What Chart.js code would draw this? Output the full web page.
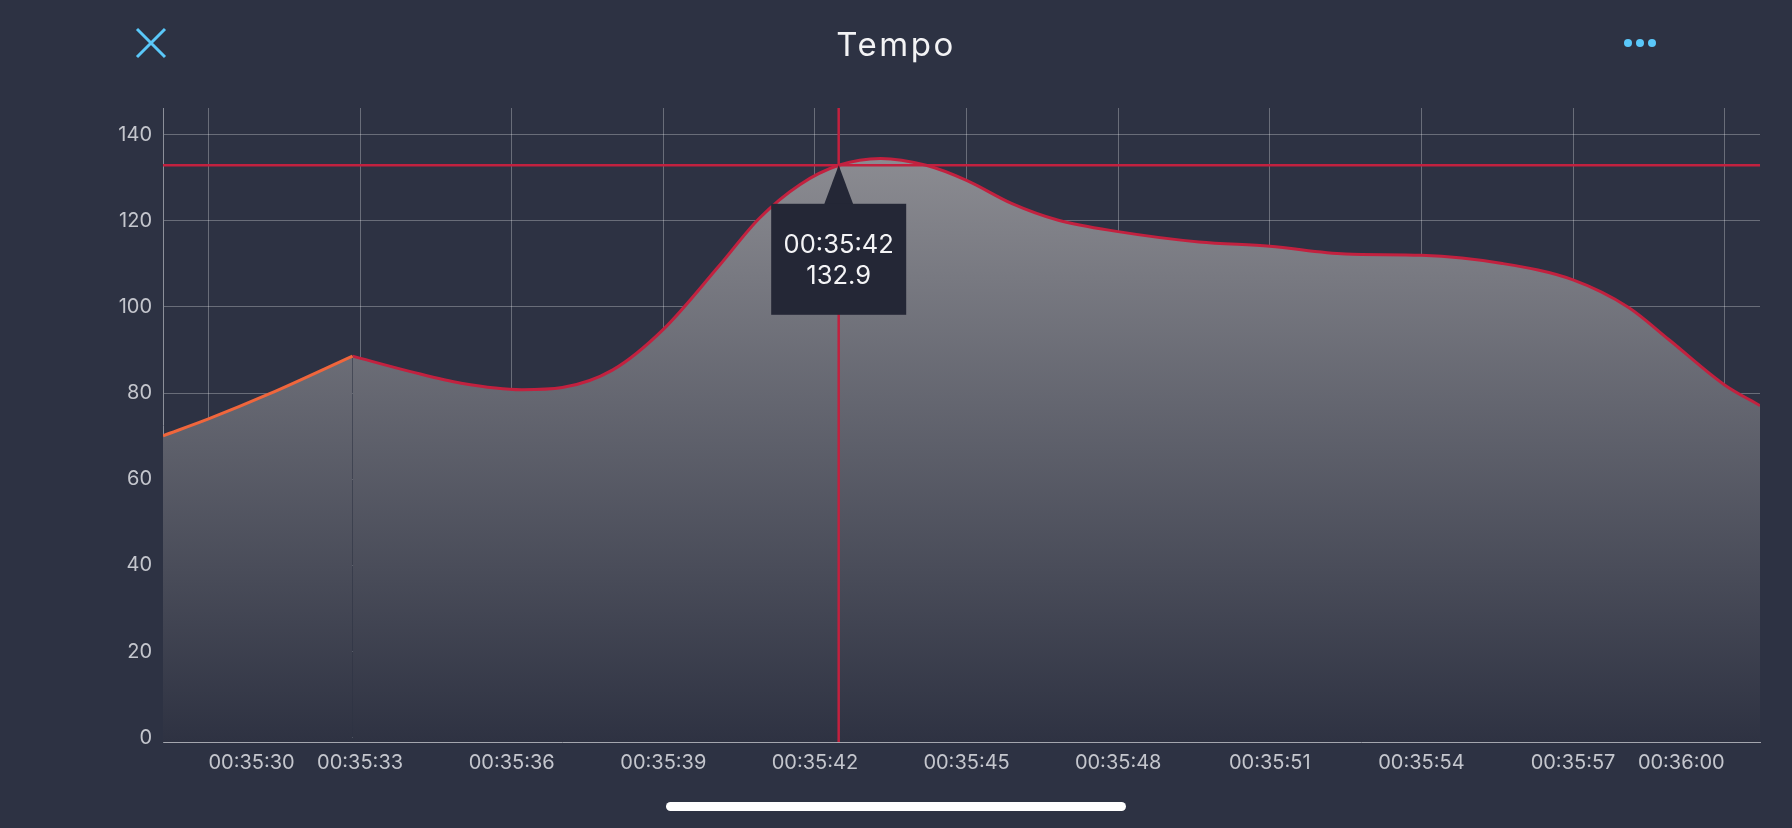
<!DOCTYPE html>
<html>
<head>
<meta charset="utf-8">
<title>Tempo</title>
<script src="https://cdn.jsdelivr.net/npm/chart.js@4.4.1/dist/chart.umd.min.js"></script>
<style>
  html, body { margin: 0; padding: 0; background: #2d3243; overflow: hidden; }
  #wrap { position: relative; width: 1792px; height: 828px; font-family: Inter, "Noto Sans", sans-serif; }
  #chart { position: absolute; left: 0; top: 0; }
  .title { position: absolute; left: 0; top: 28px; width: 1792px; text-align: center; color: #f3f3f5;
           font-size: 33px; line-height: 33px; letter-spacing: 2.5px; }
  .close { position: absolute; left: 134px; top: 26px; }
  .more { position: absolute; left: 1622px; top: 35px; }
  .home { position: absolute; left: 666px; top: 802px; width: 460px; height: 9px; border-radius: 5px; background: #fff; }
</style>
</head>
<body>
<div id="wrap">
  <canvas id="chart" width="1792" height="828"></canvas>
  <svg class="close" width="34" height="34" viewBox="0 0 34 34">
    <path d="M3 3 L31 31 M31 3 L3 31" stroke="#5ac8fa" stroke-width="3" fill="none"/>
  </svg>
  <div class="title">Tempo</div>
  <svg class="more" width="36" height="16" viewBox="0 0 36 16">
    <circle cx="6" cy="8" r="4" fill="#5ac8fa"/>
    <circle cx="18" cy="8" r="4" fill="#5ac8fa"/>
    <circle cx="30" cy="8" r="4" fill="#5ac8fa"/>
  </svg>
  <div class="home"></div>
</div>
<script>
// DATOS (segundos desde 00:35:00)
const warmupTimes = [29.1, 30.0, 31.2, 32.85];
const warmupTempo = [70.1, 74.0, 79.8, 88.6];

const tempoTimes = [32.85, 34.0, 35.0, 36.2, 37.0, 38.0, 39.0, 40.1, 40.9, 41.7, 42.47, 43.3, 44.2, 45.0,
  45.9, 46.8, 48.0, 49.6, 51.0, 52.5, 54.0, 55.6, 57.0, 58.1, 58.9, 60.0, 60.7];
const tempoValues = [88.6, 85.0, 82.3, 80.8, 81.3, 85.4, 94.8, 109.5, 120.6, 128.4, 132.9, 134.5, 132.9, 129.4,
  124.0, 120.2, 117.5, 115.1, 114.1, 112.3, 112.0, 110.1, 106.3, 99.9, 92.4, 81.9, 77.1];

const xTicks = [30, 33, 36, 39, 42, 45, 48, 51, 54, 57, 60];
const xTickLabels = ["00:35:30", "00:35:33", "00:35:36", "00:35:39", "00:35:42", "00:35:45",
  "00:35:48", "00:35:51", "00:35:54", "00:35:57", "00:36:00"];
const yTicks = [0, 20, 40, 60, 80, 100, 120, 140];

const markIndex = 10; // punto seleccionado

const red = "#c2213f";
const orange = "#f0663c";
const gridColor = "rgba(255,255,255,0.29)";

function clock(sec) {
  const s = Math.floor(sec);
  const m = 35 + Math.floor(s / 60);
  return "00:" + String(m).padStart(2, "0") + ":" + String(s % 60).padStart(2, "0");
}

function fillGradient(context) {
  const chart = context.chart;
  const area = chart.chartArea;
  if (!area) return null;
  const g = chart.ctx.createLinearGradient(0, area.top, 0, area.bottom);
  g.addColorStop(0, "rgb(147,147,152)");
  g.addColorStop(1, "rgb(46,50,66)");
  return g;
}

// marcador tipo iOS
const highlight = {
  id: "highlight",
  afterDatasetsDraw(chart) {
    const { ctx, chartArea } = chart;
    const pt = chart.getDatasetMeta(1).data[markIndex];
    const x = pt.x;
    const y = pt.y;
    ctx.save();
    ctx.strokeStyle = red;
    ctx.lineWidth = 2.5;
    ctx.beginPath();
    ctx.moveTo(x, chartArea.top);
    ctx.lineTo(x, chartArea.bottom);
    ctx.moveTo(chartArea.left, y);
    ctx.lineTo(chartArea.right, y);
    ctx.stroke();

    ctx.fillStyle = "#242736";
    ctx.beginPath();
    ctx.moveTo(x, y);
    ctx.lineTo(x + 14.5, y + 39);
    ctx.lineTo(x - 14.5, y + 39);
    ctx.closePath();
    ctx.fill();
    ctx.fillRect(x - 67.5, y + 38.5, 135, 111);

    ctx.fillStyle = "#f4f4f6";
    ctx.font = "25.5px Inter";
    ctx.textAlign = "center";
    ctx.textBaseline = "middle";
    ctx.fillText(clock(tempoTimes[markIndex]), x, y + 80);
    ctx.fillText(tempoValues[markIndex].toFixed(1), x, y + 111.5);
    ctx.restore();
  },
};

Chart.defaults.font.family = "Inter";

new Chart(document.getElementById("chart"), {
  type: "line",
  data: {
    datasets: [
      {
        data: warmupTimes.map((t, i) => ({ x: t, y: warmupTempo[i] })),
        borderColor: orange,
        borderWidth: 3,
        backgroundColor: fillGradient,
        fill: "start",
        pointRadius: 0,
        cubicInterpolationMode: "monotone",
      },
      {
        data: tempoTimes.map((t, i) => ({ x: t, y: tempoValues[i] })),
        borderColor: red,
        borderWidth: 3,
        backgroundColor: fillGradient,
        fill: "start",
        pointRadius: 0,
        cubicInterpolationMode: "monotone",
      },
    ],
  },
  options: {
    responsive: false,
    animation: false,
    layout: { padding: { top: 108, right: 32, left: 0, bottom: 0 } },
    plugins: {
      legend: { display: false },
      title: { display: false },
      tooltip: { enabled: false },
    },
    events: [],
    scales: {
      x: {
        type: "linear",
        min: 29.1,
        max: 60.7,
        afterBuildTicks: (scale) => {
          scale.ticks = xTicks.map((v) => ({ value: v }));
        },
        afterFit: (scale) => {
          scale.height = 86;
        },
        grid: { color: gridColor, lineWidth: 1, drawTicks: false },
        border: { color: "#a4a6ae", width: 1 },
        ticks: {
          autoSkip: false,
          maxRotation: 0,
          align: "inner",
          padding: 9,
          color: "#c4c6cd",
          font: { size: 20 },
          callback: (v, i) => xTickLabels[i],
        },
      },
      y: {
        min: -1,
        max: 146.2,
        afterBuildTicks: (scale) => {
          scale.ticks = yTicks.map((v) => ({ value: v }));
        },
        afterFit: (scale) => {
          scale.width = 163;
        },
        grid: { color: gridColor, lineWidth: 1, drawTicks: false },
        border: { color: "#8c8f99", width: 1 },
        ticks: {
          padding: 11,
          color: "#c4c6cd",
          font: { size: 20 },
        },
      },
    },
  },
  plugins: [highlight],
});
</script>
</body>
</html>
